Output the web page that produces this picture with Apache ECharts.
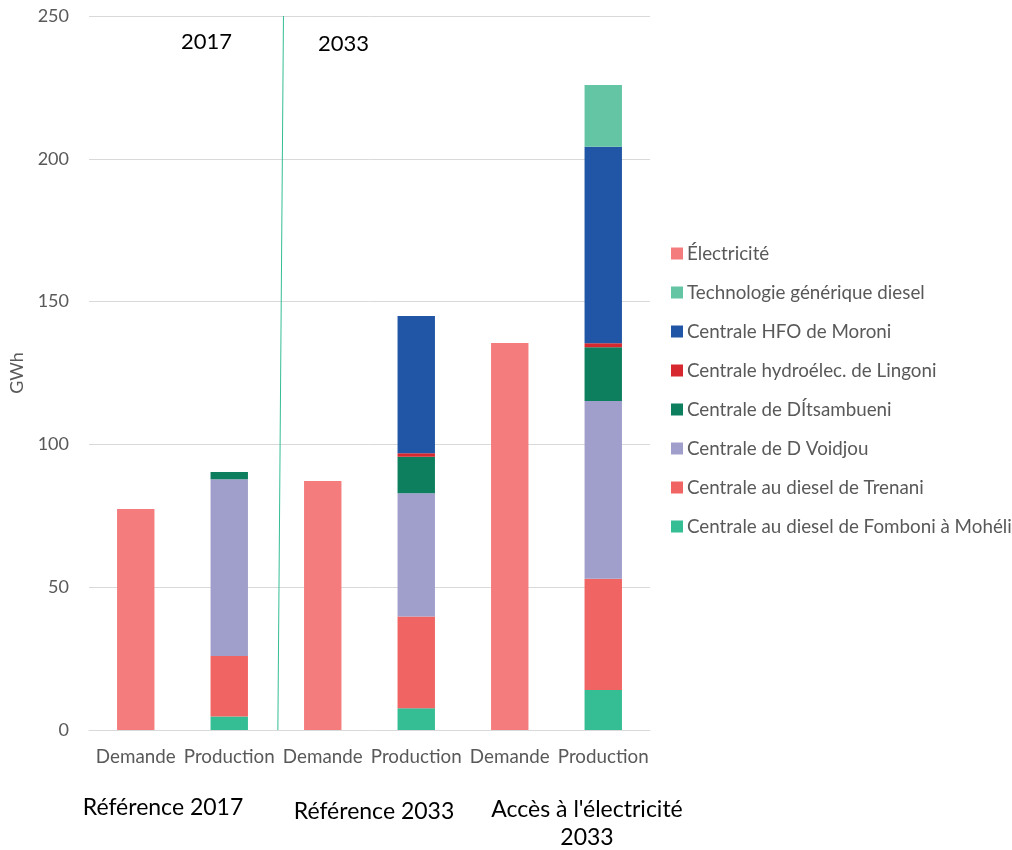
<!DOCTYPE html>
<html>
<head>
<meta charset="utf-8">
<script src="https://cdn.jsdelivr.net/npm/echarts@6/dist/echarts.min.js"></script>
<style>
  html, body { margin: 0; padding: 0; background: #ffffff; }
  #chart { width: 1012px; height: 850px; }
</style>
</head>
<body>
<div id="chart"></div>
<script>
// Categories: demand / production pairs for each scenario
const categories = ['Demande', 'Production', 'Demande', 'Production', 'Demande', 'Production'];
const groupLabels = ['Référence 2017', 'Référence 2033', "Accès à l'électricité\n2033"];
const yTicks = [0, 50, 100, 150, 200, 250];

// Demand (GWh)
const electricite = [77.4, '-', 87.2, '-', 135.5, '-'];

// Production by plant (GWh), stacked from the bottom
const fomboni     = ['-', 4.7, '-', 7.6, '-', 14.0];
const trenani     = ['-', 21.2, '-', 32.1, '-', 39.0];
const voidjou     = ['-', 61.9, '-', 43.2, '-', 62.2];
const ditsambueni = ['-', 2.5, '-', 12.8, '-', 18.8];
const lingoni     = ['-', 0, '-', 1.2, '-', 1.4];
const hfoMoroni   = ['-', 0, '-', 48.1, '-', 68.8];
const generique   = ['-', 0, '-', 0, '-', 21.6];

// Divider between 2017 and 2033 (position on a continuous category index, value in GWh)
const dividerLine = [[1.58, 250], [1.52, 0]];

const names = {
  elec: 'Électricité',
  gen: 'Technologie générique diesel',
  hfo: 'Centrale HFO de Moroni',
  lin: 'Centrale hydroélec. de Lingoni',
  dit: 'Centrale de DÍtsambueni',
  voi: 'Centrale de D Voidjou',
  tre: 'Centrale au diesel de Trenani',
  fom: 'Centrale au diesel de Fomboni à Mohéli'
};

const FONT = 'Lato, "Open Sans", sans-serif';
const GREY = '#595959';

function bar(name, data, color) {
  return {
    name: name,
    type: 'bar',
    stack: 'total',
    data: data,
    barWidth: '40%',
    itemStyle: { color: color },
    emphasis: { disabled: true }
  };
}

const chart = echarts.init(document.getElementById('chart'), null, { renderer: 'canvas' });

chart.setOption({
  backgroundColor: '#ffffff',
  animation: false,
  textStyle: { fontFamily: FONT },
  grid: { left: 88, right: 362, top: 16, bottom: 120, containLabel: false },
  legend: {
    orient: 'vertical',
    left: 671,
    top: 244,
    padding: 0,
    itemWidth: 12,
    itemHeight: 12,
    itemGap: 20,
    icon: 'rect',
    textStyle: { fontFamily: FONT, fontSize: 18.8, color: GREY, padding: [0, 0, 0, -1] },
    data: [names.elec, names.gen, names.hfo, names.lin, names.dit, names.voi, names.tre, names.fom]
  },
  xAxis: [
    {
      type: 'category',
      data: categories,
      axisLine: { lineStyle: { color: '#d9d9d9', width: 1 } },
      axisTick: { show: false },
      axisLabel: { fontFamily: FONT, fontSize: 18.8, color: GREY, margin: 17, interval: 0 }
    },
    {
      type: 'value',
      min: -0.5,
      max: 5.5,
      show: false
    }
  ],
  yAxis: {
    type: 'value',
    min: 0,
    max: 250,
    interval: 50,
    name: 'GWh',
    nameLocation: 'middle',
    nameRotate: 90,
    nameGap: 63,
    nameTextStyle: { fontFamily: FONT, fontSize: 18, color: GREY },
    axisLine: { show: false },
    axisTick: { show: false },
    axisLabel: {
      fontFamily: FONT, fontSize: 18, color: GREY, margin: 20,
      formatter: function (v) { return yTicks.indexOf(v) >= 0 ? String(v) : ''; }
    },
    splitLine: { lineStyle: { color: '#d9d9d9', width: 1 } }
  },
  series: [
    bar(names.fom, fomboni, '#35BD94'),
    bar(names.tre, trenani, '#F06463'),
    bar(names.voi, voidjou, '#A09FCC'),
    bar(names.dit, ditsambueni, '#0D7F5F'),
    bar(names.lin, lingoni, '#D7282F'),
    bar(names.hfo, hfoMoroni, '#2155A5'),
    bar(names.gen, generique, '#63C5A4'),
    bar(names.elec, electricite, '#F47C7C'),
    {
      type: 'line',
      xAxisIndex: 1,
      data: dividerLine,
      symbol: 'none',
      silent: true,
      lineStyle: { color: '#35BD94', width: 1 },
      z: 5
    }
  ],
  graphic: [
    { type: 'text', left: 181, top: 31, style: { text: '2017', font: '22px ' + FONT, fill: '#000000' } },
    { type: 'text', left: 318, top: 33, style: { text: '2033', font: '22px ' + FONT, fill: '#000000' } },
    { type: 'text', x: 163, y: 808, style: { text: groupLabels[0], font: '23px ' + FONT, fill: '#000000', align: 'center', verticalAlign: 'middle' } },
    { type: 'text', x: 374, y: 812, style: { text: groupLabels[1], font: '23px ' + FONT, fill: '#000000', align: 'center', verticalAlign: 'middle' } },
    { type: 'text', x: 587, y: 824, style: { text: groupLabels[2], font: '23px ' + FONT, fill: '#000000', align: 'center', verticalAlign: 'middle', lineHeight: 28 } }
  ]
});
</script>
</body>
</html>
